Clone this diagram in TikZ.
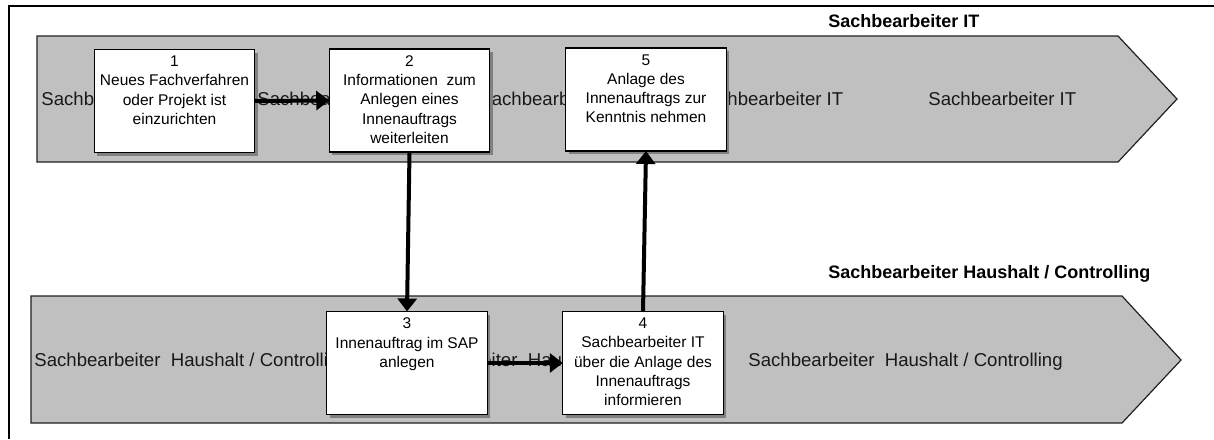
\documentclass[tikz,border=0pt]{standalone}
\usepackage{fontspec}
\setmainfont{Liberation Sans}
\usetikzlibrary{arrows.meta,shadows}

\definecolor{lanegray}{HTML}{C0C0C0}
\definecolor{shadowgray}{HTML}{808080}
\definecolor{laneedge}{HTML}{202020}

\tikzset{
  lane/.style={fill=lanegray, draw=laneedge, line width=0.6pt, line join=miter},
  lanetext/.style={anchor=base west, inner sep=0, text=black!90,
    font=\fontsize{9.3pt}{11pt}\selectfont},
  lanetitle/.style={anchor=base west, inner sep=0,
    font=\bfseries\fontsize{9pt}{11pt}\selectfont},
  stepbox/.style={draw=black, line width=0.6pt, fill=white,
    minimum width=80.25pt, minimum height=51.5pt, inner sep=0, outer sep=0,
    drop shadow={shadow xshift=1.6pt, shadow yshift=-1.6pt,
      fill=shadowgray, opacity=1}},
  steptext/.style={align=center, inner sep=0, anchor=north, yshift=-3pt,
    font=\fontsize{7.75pt}{9.65pt}\selectfont},
  flow/.style={line width=2pt, -{Triangle[length=6.5pt,width=9.5pt]}},
  frameline/.style={line width=1.35pt}
}

\begin{document}
\begin{tikzpicture}[x=0.5pt, y=-0.5pt]
\useasboundingbox (0,0) rectangle (1214,439);

% outer frame (top and left edges)
\draw[frameline] (1214,6) -- (9,6) -- (9,439);

% swimlanes
\draw[lane] (37,36) -- (1118,36) -- (1177,99) -- (1118,162) -- (37,162) -- cycle;
\draw[lane] (31,296) -- (1122,296) -- (1181,360) -- (1122,423) -- (31,423) -- cycle;

% lane titles
\node[lanetitle] (t1) at (828,27) {Sachbearbeiter IT};
\node[lanetitle] (t2) at (828,278) {Sachbearbeiter Haushalt / Controlling};

% repeated lane labels
\foreach \x [count=\i] in {41,257,479,695,928}
  \node[lanetext] (la\i) at (\x,105.5) {Sachbearbeiter IT};
\foreach \x [count=\i] in {34,391,748}
  \node[lanetext] (lb\i) at (\x,366.5) {Sachbearbeiter\ \ Haushalt / Controlling};

% process steps
\node[stepbox] (b1) at (174.5,101) {};
\node[steptext] at (b1.north) {1\\Neues Fachverfahren\\oder Projekt ist\\einzurichten};
\node[stepbox] (b2) at (409.5,100.5) {};
\node[steptext] at (b2.north) {2\\Informationen\ \ zum\\Anlegen eines\\Innenauftrags\\weiterleiten};
\node[stepbox] (b5) at (646,99.5) {};
\node[steptext] at (b5.north) {5\\Anlage des\\Innenauftrags zur\\Kenntnis nehmen};
\node[stepbox] (b3) at (407,363) {};
\node[steptext] at (b3.north) {3\\Innenauftrag im SAP\\anlegen};
\node[stepbox] (b4) at (643,363) {};
\node[steptext] at (b4.north) {4\\Sachbearbeiter IT\\über die Anlage des\\Innenauftrags\\informieren};

% flow
\draw[flow] (b1.east) -- (b2.west);
\draw[flow] (b2.south) -- (b3.north);
\draw[flow] (b3.east) -- (b4.west);
\draw[flow] (b4.north) -- (b5.south);
\end{tikzpicture}
\end{document}
